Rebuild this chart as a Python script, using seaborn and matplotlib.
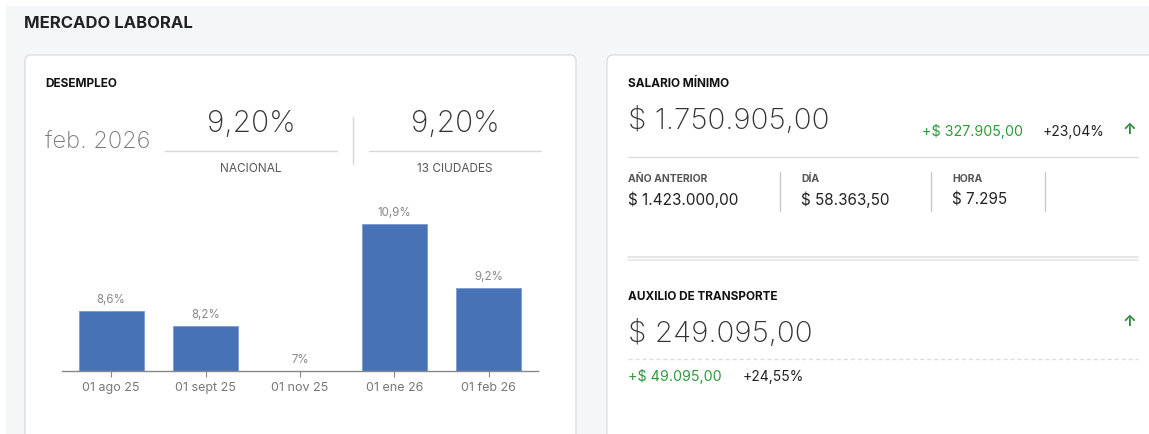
import matplotlib
matplotlib.use("Agg")
import matplotlib.pyplot as plt
import seaborn as sns
from matplotlib.patches import FancyBboxPatch, Rectangle

# Data
months = ['01 ago 25', '01 sept 25', '01 nov 25', '01 ene 26', '01 feb 26']
desempleo = [8.6, 8.2, 7.0, 10.9, 9.2]
periodo = 'feb. 2026'
tasa_nacional = '9,20%'
tasa_ciudades = '9,20%'
salario_minimo = '$ 1.750.905,00'
salario_var_abs = '+$ 327.905,00'
salario_var_pct = '+23,04%'
salario_labels = ['AÑO ANTERIOR', 'DÍA', 'HORA']
salario_detalle = ['$ 1.423.000,00', '$ 58.363,50', '$ 7.295']
auxilio = '$ 249.095,00'
auxilio_var_abs = '+$ 49.095,00'
auxilio_var_pct = '+24,55%'

W, H = 1149, 435
BAR = '#4872b6'
GREEN = '#2e9a3c'
DARK = '#222222'
GREY = '#777777'

sns.set_style('white')
plt.rcParams['font.family'] = ['Inter', 'DejaVu Sans']

fig = plt.figure(figsize=(W / 100, H / 100), dpi=100)
fig.patch.set_facecolor('white')

# full-figure canvas in pixel units
bg = fig.add_axes([0, 0, 1, 1])
bg.set_xlim(0, W)
bg.set_ylim(H, 0)
bg.axis('off')
bg.add_patch(Rectangle((6, 7), W, H, color='#f5f6f8', zorder=0))

for x0, x1 in [(25, 576), (607, W + 20)]:
    bg.add_patch(FancyBboxPatch((x0, 56), x1 - x0, 420,
                                boxstyle='round,pad=0,rounding_size=6',
                                fc='white', ec='#dcdee2', lw=1, zorder=1))


def txt(x, y, s, size, color=DARK, weight='normal', ha='left'):
    bg.text(x, y, s, fontsize=size, color=color, fontweight=weight,
            ha=ha, va='center', zorder=3)


txt(24, 24, 'MERCADO LABORAL', 12, '#222', 'bold')

# Desempleo card
txt(45, 84, 'DESEMPLEO', 8.5, '#111', 'bold')
txt(45, 142, periodo, 17, GREY, 'light')
for cx, val, lab in [(251, tasa_nacional, 'NACIONAL'), (455, tasa_ciudades, '13 CIUDADES')]:
    txt(cx, 124, val, 21.5, '#333', 'light', ha='center')
    bg.plot([cx - 86, cx + 86], [152, 152], color='#d8d8d8', lw=1, zorder=2)
    txt(cx, 169, lab, 8.5, '#555', ha='center')
bg.plot([353, 353], [118, 165], color='#d8d8d8', lw=1, zorder=2)

# Salario minimo card
txt(628, 84, 'SALARIO MÍNIMO', 8.5, '#111', 'bold')
txt(628, 121, salario_minimo, 21.3, '#333', 'light')
txt(1023, 132, salario_var_abs, 10.3, GREEN, ha='right')
txt(1043, 132, salario_var_pct, 10, DARK)
txt(1129, 130, '↑', 11, '#2b8a3e', 'bold', ha='center')
bg.plot([628, 1138], [158, 158], color='#dddddd', lw=1, zorder=2)
for x, lab, val in zip([628, 801, 952], salario_labels, salario_detalle):
    txt(x, 179, lab, 7.5, '#555', 'bold')
    txt(x, 200, val, 11, DARK)
for x in [780, 931, 1045]:
    bg.plot([x, x], [173, 212], color='#c9c9d6', lw=1, zorder=2)
bg.plot([628, 1138], [258, 258], color='#e2e2e2', lw=1.2, zorder=2)
bg.plot([628, 1138], [261, 261], color='#e8e8e8', lw=1.2, zorder=2)

# Auxilio de transporte
txt(628, 297, 'AUXILIO DE TRANSPORTE', 8.5, '#111', 'bold')
txt(628, 334, auxilio, 21.3, '#333', 'light')
txt(1129, 322, '↑', 11, '#2b8a3e', 'bold', ha='center')
bg.plot([628, 1138], [360, 360], color='#dddddd', lw=1, ls=(0, (3, 2)), zorder=2)
txt(628, 377, auxilio_var_abs, 10.3, GREEN)
txt(743, 377, auxilio_var_pct, 10, DARK)

# bar chart
ax = fig.add_axes([62 / W, 1 - 372 / H, (538 - 62) / W, (372 - 194) / H])
ax.set_facecolor('none')
sns.barplot(x=months, y=desempleo, ax=ax, color=BAR, width=0.69,
            saturation=1, edgecolor='#7d9ad0', linewidth=0.6)
ax.set_xlim(-0.52, 4.52)
ax.set_ylim(7, 11.71)
labels = [f'{v:g}'.replace('.', ',') + '%' for v in desempleo]
ax.bar_label(ax.containers[0], labels=labels, padding=4, fontsize=8.3, color='#888')
for s in ['top', 'right', 'left']:
    ax.spines[s].set_visible(False)
ax.spines['bottom'].set_color('#888')
ax.spines['bottom'].set_linewidth(1)
ax.set_yticks([])
ax.tick_params(axis='x', length=4, color='#888', labelsize=9,
               labelcolor='#777', pad=3, bottom=True)
ax.set_xlabel('')
ax.set_ylabel('')

fig.savefig('out.png', dpi=100)
